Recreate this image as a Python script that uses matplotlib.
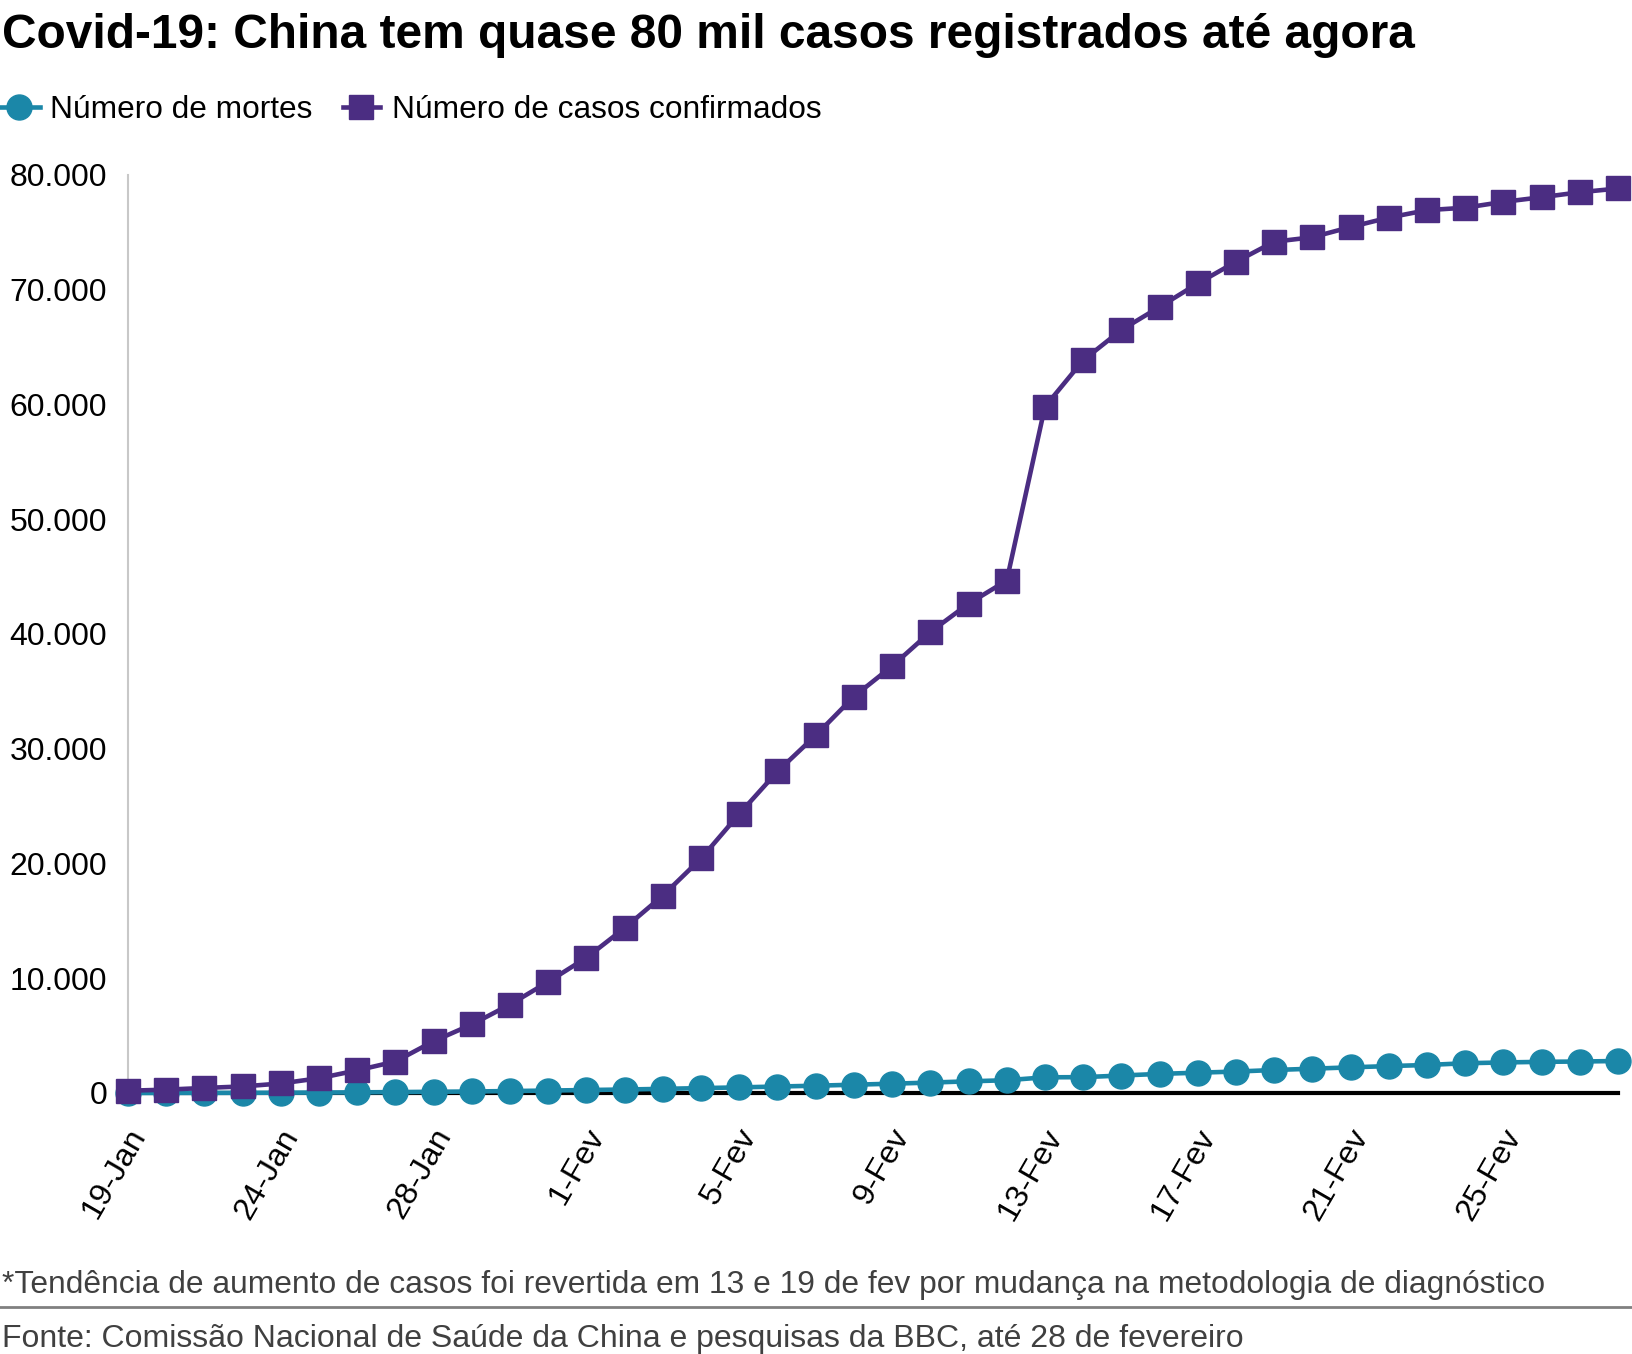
import matplotlib
matplotlib.use('Agg')
import matplotlib.pyplot as plt
from matplotlib.lines import Line2D
from matplotlib.ticker import FuncFormatter
import matplotlib.transforms as mtransforms

# ---------------- data ----------------
dates = ['19-Jan'] + [f'{d}-Jan' for d in range(21, 32)] + [f'{d}-Fev' for d in range(1, 29)]
cases = [198, 291, 440, 571, 830, 1287, 1975, 2744, 4515, 5974, 7711, 9692, 11791,
         14380, 17205, 20438, 24324, 28018, 31161, 34546, 37198, 40171, 42638, 44653,
         59804, 63851, 66492, 68500, 70548, 72436, 74185, 74576, 75465, 76288, 76936,
         77150, 77658, 78064, 78497, 78824]
deaths = [3, 6, 9, 17, 25, 41, 56, 80, 106, 132, 170, 213, 259, 304, 361, 425, 490,
          563, 636, 722, 811, 908, 1016, 1113, 1367, 1380, 1523, 1665, 1770, 1868,
          2004, 2118, 2236, 2345, 2442, 2592, 2663, 2715, 2744, 2788]
yticks = [0, 10000, 20000, 30000, 40000, 50000, 60000, 70000, 80000]
series_names = ['Número de mortes', 'Número de casos confirmados']
title = 'Covid-19: China tem quase 80 mil casos registrados até agora'
note = '*Tendência de aumento de casos foi revertida em 13 e 19 de fev por mudança na metodologia de diagnóstico'
source = 'Fonte: Comissão Nacional de Saúde da China e pesquisas da BBC, até 28 de fevereiro'

TEAL = '#1b87a8'
PURPLE = '#4b2d82'
LW = 3.3
MS_C = 18
MS_S = 17

plt.rcParams['font.family'] = ['Liberation Sans', 'DejaVu Sans']

W, H = 1632, 1354
fig = plt.figure(figsize=(W / 100, H / 100), dpi=100)


def fx(px):
    return px / W


def fy(py):
    return 1 - py / H


ax = fig.add_axes([fx(128), fy(1093), fx(1618) - fx(128), fy(175) - fy(1093)])
xs = list(range(len(dates)))

ax.axhline(0, color='black', lw=3.0, zorder=2, clip_on=False)
ax.plot(xs, deaths, color=TEAL, lw=LW, marker='o', ms=MS_C, clip_on=False, zorder=3)
ax.plot(xs, cases, color=PURPLE, lw=LW, marker='s', ms=MS_S, clip_on=False, zorder=4)

ax.set_xlim(0, len(dates) - 1)
ax.set_ylim(0, 80000)

for s in ['top', 'right', 'bottom']:
    ax.spines[s].set_visible(False)
ax.spines['left'].set_color('#c8c8c8')
ax.spines['left'].set_linewidth(1.5)

ax.set_yticks(yticks)
ax.yaxis.set_major_formatter(FuncFormatter(lambda v, p: f'{int(v):,}'.replace(',', '.')))
ax.tick_params(axis='y', length=0, pad=15, labelsize=23, colors='black')

ax.set_xticks(xs[::4])
ax.set_xticklabels(dates[::4], rotation=60, ha='right', va='top', rotation_mode='anchor')
ax.tick_params(axis='x', length=0, pad=22, labelsize=23.2)
offset = mtransforms.ScaledTranslation(-2 / 100, 0, fig.dpi_scale_trans)
for lab in ax.get_xticklabels():
    lab.set_transform(lab.get_transform() + offset)

# title
fig.text(fx(2), fy(48), title, fontsize=34.5, fontweight='bold', ha='left', va='baseline')

# legend (manual)
ly = fy(107)
fig.add_artist(Line2D([fx(0), fx(40)], [ly, ly], color=TEAL, lw=LW, transform=fig.transFigure))
fig.add_artist(Line2D([fx(19)], [ly], color=TEAL, marker='o', ms=MS_C, transform=fig.transFigure))
fig.text(fx(50), fy(118), series_names[0], fontsize=22.8, ha='left', va='baseline')
fig.add_artist(Line2D([fx(343), fx(380)], [ly, ly], color=PURPLE, lw=LW, transform=fig.transFigure))
fig.add_artist(Line2D([fx(361)], [ly], color=PURPLE, marker='s', ms=MS_S, transform=fig.transFigure))
fig.text(fx(392), fy(118), series_names[1], fontsize=22.8, ha='left', va='baseline')

# footnotes
fig.text(fx(2), fy(1293), note, fontsize=22.85, color='#404040', ha='left', va='baseline')
fig.add_artist(Line2D([0, 1], [fy(1307), fy(1307)], color='#808080', lw=2, transform=fig.transFigure))
fig.text(fx(2), fy(1347), source, fontsize=23, color='#404040', ha='left', va='baseline')

fig.savefig('out.png', dpi=100)
